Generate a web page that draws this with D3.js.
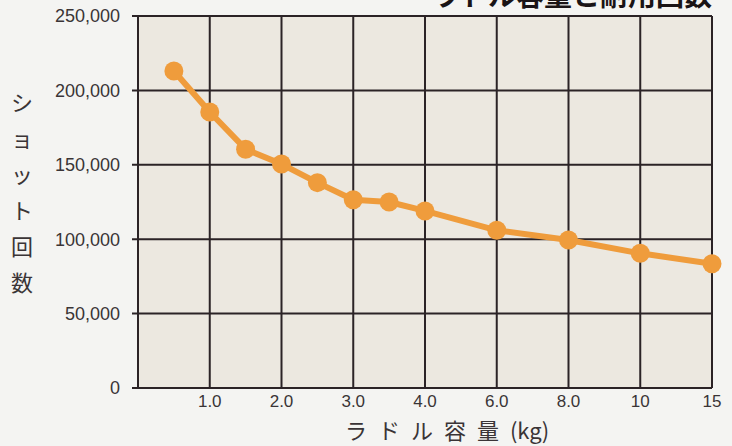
<!DOCTYPE html>
<html lang="ja">
<head>
<meta charset="utf-8">
<script src="https://cdn.jsdelivr.net/npm/d3@7"></script>
<style>
  html, body { margin: 0; padding: 0; background: #F4F4F2; }
  svg { display: block; }
  .tick-y, .tick-x { font-family: "Liberation Sans", "DejaVu Sans", sans-serif; fill: #3a3436; }
  .jp { font-family: "Noto Sans CJK JP", sans-serif; fill: #3a3436; }
</style>
</head>
<body>
<div id="chart"></div>
<script>
/* Ladle capacity vs. shot count — line with dots on a beige grid.
   x axis is evenly spaced ticks for 1,2,3,4,6,8,10,15 kg (not linear in kg). */
const X_TICKS = [0, 1, 2, 3, 4, 6, 8, 10, 15];
const X_LABELS = ["", "1.0", "2.0", "3.0", "4.0", "6.0", "8.0", "10", "15"];
const CAPACITY = [0.5, 1.0, 1.5, 2.0, 2.5, 3.0, 3.5, 4.0, 6.0, 8.0, 10, 15];
const SHOTS = [213000, 185500, 160500, 150500, 138000, 126500, 125000, 119000, 106000, 99500, 90500, 83500];
const Y_TICKS = [0, 50000, 100000, 150000, 200000, 250000];
const Y_TITLE = ["シ", "ョ", "ッ", "ト", "回", "数"];
const X_TITLE = ["ラドル容量", "(kg)"];
const TITLE = "ラドル容量と耐用回数";

(function () {
  const W = 732, H = 446;
  const m = { t: 16, r: 20, b: 58, l: 138 };
  const iw = W - m.l - m.r, ih = H - m.t - m.b;
  const INK = "#2b2326", ORANGE = "#EF9C3C";

  const svg = d3.select("#chart").append("svg").attr("width", W).attr("height", H);

  // piecewise-linear scale: each tick gets an equal slot
  const x = d3.scaleLinear().domain(X_TICKS).range(X_TICKS.map((d, i) => i * iw / (X_TICKS.length - 1)));
  const y = d3.scaleLinear().domain([0, 250000]).range([ih, 0]);

  // title (cut off at the top edge, as in the source)
  svg.append("text").attr("class", "jp").attr("x", 712).attr("y", 6)
    .attr("text-anchor", "end").attr("font-size", 28).attr("font-weight", 700)
    .style("fill", "#1a1416").text(TITLE);

  const g = svg.append("g").attr("transform", `translate(${m.l},${m.t})`);

  g.append("rect").attr("width", iw).attr("height", ih).attr("fill", "#ECE8E0");

  // ---------- grid ----------
  g.selectAll("line.gy").data(Y_TICKS).join("line").attr("class", "gy")
    .attr("x1", -6).attr("x2", iw).attr("y1", d => y(d)).attr("y2", d => y(d))
    .attr("stroke", INK).attr("stroke-width", 2);
  g.selectAll("line.gx").data(X_TICKS).join("line").attr("class", "gx")
    .attr("x1", d => x(d)).attr("x2", d => x(d)).attr("y1", 0).attr("y2", ih)
    .attr("stroke", INK).attr("stroke-width", 2);

  // ---------- axis labels ----------
  g.selectAll("text.tick-y").data(Y_TICKS).join("text").attr("class", "tick-y")
    .attr("x", -18).attr("y", d => y(d)).attr("dy", "0.36em").attr("text-anchor", "end")
    .attr("font-size", 18).text(d => d3.format(",")(d));
  g.selectAll("text.tick-x").data(X_TICKS).join("text").attr("class", "tick-x")
    .attr("x", d => x(d)).attr("y", ih + 19).attr("text-anchor", "middle")
    .attr("font-size", 17).text((d, i) => X_LABELS[i]);

  const xt = svg.append("text").attr("class", "jp").attr("x", 447).attr("y", 439)
    .attr("text-anchor", "middle").attr("font-size", 22);
  xt.append("tspan").attr("letter-spacing", "11px").text(X_TITLE[0]);
  xt.append("tspan").text(X_TITLE[1]);

  svg.selectAll("text.ytitle").data(Y_TITLE).join("text").attr("class", "jp ytitle")
    .attr("x", 22).attr("y", (d, i) => 103 + i * 36).attr("dy", "0.36em")
    .attr("text-anchor", "middle").attr("font-size", 22).text(d => d);

  // ---------- line + dots ----------
  const pts = CAPACITY.map((c, i) => [c, SHOTS[i]]);
  g.append("path").datum(pts)
    .attr("d", d3.line().x(d => x(d[0])).y(d => y(d[1])))
    .attr("fill", "none").attr("stroke", ORANGE).attr("stroke-width", 6).attr("stroke-linejoin", "round");
  g.selectAll("circle").data(pts).join("circle")
    .attr("cx", d => x(d[0])).attr("cy", d => y(d[1])).attr("r", 9.5).attr("fill", ORANGE);
})();
</script>
</body>
</html>
